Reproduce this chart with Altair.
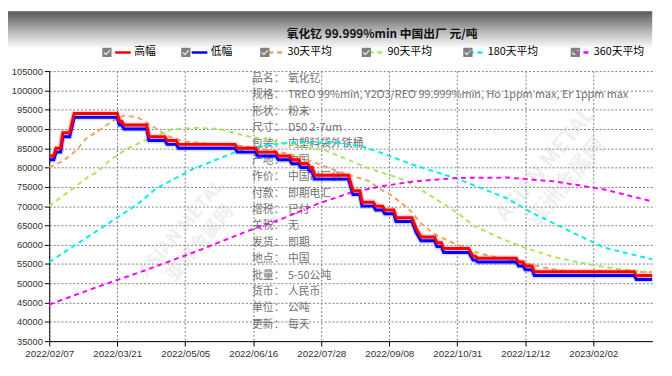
import json
import altair as alt
import pandas as pd

# ---------------- data ----------------
series_names = ["高幅", "低幅", "30天平均", "90天平均", "180天平均", "360天平均"]
series_colors = ["#ff0000", "#0000ff", "#f4a460", "#a8e85a", "#00eeee", "#ff00ff"]
series_dash = [[1, 0], [1, 0], [5, 4], [5, 4], [5, 4], [5, 4]]

tick_days = [0, 30, 60, 90, 120, 150, 180, 210, 240]
tick_labels = ["2022/02/07", "2022/03/21", "2022/05/05", "2022/06/16", "2022/07/28",
               "2022/09/08", "2022/10/31", "2022/12/12", "2023/02/02"]
last_day = 266
y_ticks = list(range(35000, 105001, 5000))

# price runs: (first trading day of run, price)
run_start = [0, 3, 6, 10, 11, 31, 33, 44, 52, 57, 83, 92, 101, 107, 111, 115, 117, 133,
             134, 138, 144, 148, 153, 161, 162, 163, 164, 171, 174, 186, 187, 189, 207,
             210, 214, 259]
high_values = [83000, 85000, 89000, 91500, 94000, 92000, 91000, 88000, 87000, 86000,
               85000, 84000, 83000, 82000, 81000, 80000, 78000, 76000, 74000, 71000,
               70000, 69000, 67000, 65500, 64000, 63000, 62000, 60500, 59000, 58000,
               57000, 56500, 55500, 54500, 53000, 52000]
low_values = [82000, 84000, 88000, 90500, 93000, 91000, 90000, 87000, 86000, 85000,
              84000, 83000, 82000, 81000, 80000, 79000, 77000, 75000, 73000, 70000,
              69000, 68000, 66000, 64500, 63000, 62000, 61000, 59500, 58000, 57000,
              56000, 55500, 54500, 53500, 52000, 51000]

ma30_days = [0, 6, 12, 16, 22, 28, 33, 39, 46, 53, 60, 68, 78, 86, 98, 104, 111, 121,
             130, 141, 147, 150, 156, 160, 164, 170, 178, 190, 200, 206, 216, 225, 238,
             259, 266]
ma30_values = [80000, 81700, 84400, 87400, 89600, 92100, 93500, 93000, 90500, 88000,
               86700, 86300, 86000, 85500, 84400, 83700, 82700, 80400, 78500, 76500,
               74000, 73200, 70500, 68400, 65500, 62700, 60500, 57700, 56400, 55700,
               54400, 53300, 53000, 53000, 52900]

ma90_days = [0, 8, 17, 21, 26, 34, 45, 54, 65, 75, 86, 104, 122, 141, 157, 169, 180,
             187, 199, 209, 222, 238, 252, 266]
ma90_values = [70000, 73500, 77500, 78800, 81500, 84800, 87800, 89900, 90300, 90000,
               88300, 86200, 84400, 79800, 76700, 72400, 68300, 65000, 61700, 59400,
               56900, 54900, 53600, 52900]

ma180_days = [0, 13, 26, 39, 47, 63, 82, 95, 108, 125, 138, 147, 160, 180, 202, 212,
              230, 245, 257, 266]
ma180_values = [55500, 60500, 65500, 70500, 74500, 79500, 84000, 85800, 86500, 86500,
                85500, 83700, 80800, 77100, 72000, 68600, 63400, 59200, 57500, 56200]

ma360_days = [0, 21, 43, 65, 86, 104, 118, 133, 147, 161, 180, 202, 223, 245, 266]
ma360_values = [44500, 49000, 53500, 58300, 63200, 67000, 70500, 73500, 75200, 76400,
                77300, 77400, 76400, 74300, 71200]

title_text = "氧化钇 99.999%min 中国出厂 元/吨"
info_keys = ["品名：", "规格：", "形状：", "尺寸：", "包装：", "产地：", "作价：", "付款：",
             "增税：", "关税：", "发货：", "地点：", "批量：", "货币：", "单位：", "更新："]
info_values = ["氧化钇", "TREO 99%min, Y2O3/REO 99.999%min, Ho 1ppm max, Er 1ppm max",
               "粉末", "D50 2-7um", "内塑料袋外铁桶", "中国", "中国出厂价", "即期电汇",
               "已付", "无", "即期", "中国", "5-50公吨", "人民币", "公吨", "每天"]
watermark_lines = ["ASIAN METAL", "亚洲金属网"]

# ---------------- table ----------------
rows = []
for d in range(last_day + 1):
    k = max(j for j, s in enumerate(run_start) if s <= d)
    rows.append({"day": d, "value": high_values[k], "series": series_names[0]})
    rows.append({"day": d, "value": low_values[k], "series": series_names[1]})
for name, days, vals in [(series_names[2], ma30_days, ma30_values),
                         (series_names[3], ma90_days, ma90_values),
                         (series_names[4], ma180_days, ma180_values),
                         (series_names[5], ma360_days, ma360_values)]:
    for d, v in zip(days, vals):
        rows.append({"day": d, "value": v, "series": name})
df = pd.DataFrame(rows)
# checkbox legend entries (zero-width suffix keeps this legend separate from the line legend)
box_names = [s + "\u200b" for s in series_names]
legend_df = pd.DataFrame({"box": box_names})
one = pd.DataFrame({"k": [0]})

W, H = 614, 275
CJK = "Noto Sans CJK SC"

x_enc = alt.X("day:Q",
              scale=alt.Scale(domain=[0, last_day], nice=False, zero=False),
              axis=alt.Axis(values=tick_days, title=None,
                            labelExpr=json.dumps(tick_labels, ensure_ascii=False) + "[round(datum.value / 30)]",
                            labelFont="Liberation Sans", labelFontSize=10, labelColor="#333333",
                            labelPadding=3, tickSize=5, tickColor="#000000",
                            domainColor="#000000", grid=True, gridColor="#7a7a7a",
                            gridDash=[2, 2], labelFlush=False))
y_enc = alt.Y("value:Q",
              scale=alt.Scale(domain=[35000, 105000], nice=False, zero=False),
              axis=alt.Axis(values=y_ticks, title=None, format="d",
                            labelFont="Liberation Sans", labelFontSize=9.5, labelColor="#333333",
                            labelPadding=2, tickSize=5, tickColor="#000000",
                            domainColor="#000000", grid=True, gridColor="#7a7a7a",
                            gridDash=[2, 2]))

legend_common = dict(title=None, orient="none", legendX=52.5,
                     direction="horizontal", columns=6, gridAlign="none",
                     padding=0, symbolSize=841, symbolStrokeWidth=2.5,
                     labelFont=CJK, labelOffset=2)
line_legend = alt.Legend(symbolType="M-0.1,0L1,0", labelColor="#000000", legendY=-35,
                         labelFontSize=11, columnPadding=22, **legend_common)
# checkbox legend: its hidden spacer labels (label twice at half size, slightly wider
# because of glyph rounding, hence the smaller column padding) sit 12px lower;
# the checkbox path is drawn 12px (0.828 units) higher to line up with the line symbols
box_path = ("M-1,-1.148L-0.35,-1.148L-0.35,-0.508L-1,-0.508Z"
            "M-0.876,-0.862L-0.910,-0.794L-0.737,-0.630L-0.454,-0.944L-0.489,-1.012L-0.737,-0.739Z")
box_label_expr = "replace(datum.label, regexp('\u200b', 'g'), '') + replace(datum.label, regexp('\u200b', 'g'), '')"
box_legend = alt.Legend(symbolStrokeColor="transparent", symbolFillColor="#808080",
                        symbolOpacity=1, labelOpacity=0, legendY=-23, labelFontSize=5.5,
                        columnPadding=19.4, labelExpr=box_label_expr, **legend_common)

color_enc = alt.Color("series:N", scale=alt.Scale(domain=series_names, range=series_colors),
                      legend=line_legend)
dash_enc = alt.StrokeDash("series:N", scale=alt.Scale(domain=series_names, range=series_dash),
                          legend=line_legend)

# ---------------- layers ----------------
header = alt.Chart(one).mark_rect(
    color=alt.LinearGradient(gradient="linear", x1=0, y1=0, x2=0, y2=1,
                             stops=[alt.GradientStop(color="#585858", offset=0),
                                    alt.GradientStop(color="#b8b8b8", offset=0.55),
                                    alt.GradientStop(color="#ffffff", offset=1)])
).encode(x=alt.value(-42), x2=alt.value(W), y=alt.value(-61), y2=alt.value(-23))

title = alt.Chart(one).mark_text(text=title_text, font=CJK, fontSize=12, fontWeight="bold",
                                 color="#111111", align="center", baseline="middle"
                                 ).encode(x=alt.value(339), y=alt.value(-38))

info_k = alt.Chart(one).mark_text(text=info_keys, font=CJK, fontSize=11, color="#707070",
                                  align="left", baseline="top", lineHeight=16.7
                                  ).encode(x=alt.value(206.5), y=alt.value(2))
info_v = alt.Chart(one).mark_text(text=info_values, font=CJK, fontSize=11, color="#707070",
                                  align="left", baseline="top", lineHeight=16.7
                                  ).encode(x=alt.value(243), y=alt.value(2))

wm1 = alt.Chart(one).mark_text(text=watermark_lines, font=CJK, fontSize=19, fontWeight="bold",
                               color="#c8c8c8", opacity=0.28, angle=310, lineHeight=24,
                               align="center", baseline="middle"
                               ).encode(x=alt.value(135), y=alt.value(160))
wm2 = alt.Chart(one).mark_text(text=watermark_lines, font=CJK, fontSize=22, fontWeight="bold",
                               color="#c8c8c8", opacity=0.28, angle=310, lineHeight=28,
                               align="center", baseline="middle"
                               ).encode(x=alt.value(505), y=alt.value(95))

base = alt.Chart(df)
dashed = base.transform_filter(
    alt.FieldOneOfPredicate(field="series", oneOf=series_names[2:])
).mark_line(strokeWidth=2).encode(x=x_enc, y=y_enc, color=color_enc, strokeDash=dash_enc,
                                  detail="series:N")

def glow(name, col):
    return base.transform_filter(alt.datum.series == name).mark_line(
        strokeWidth=6, color=col, opacity=0.16).encode(x=x_enc, y=y_enc)

def solid(name):
    return base.transform_filter(alt.datum.series == name).mark_line(
        strokeWidth=3).encode(x=x_enc, y=y_enc, color=color_enc, strokeDash=dash_enc)

boxes = alt.Chart(legend_df).transform_filter("false").mark_point(
    filled=True, color="#808080").encode(
    shape=alt.Shape("box:N", scale=alt.Scale(domain=box_names, range=[box_path] * 6),
                    legend=box_legend),
    x=alt.value(0), y=alt.value(0))

chart = alt.layer(
    header, title, info_k, info_v, wm1, wm2, dashed,
    glow(series_names[1], "#0000ff"), glow(series_names[0], "#ff0000"),
    solid(series_names[1]), solid(series_names[0]), boxes
).properties(width=W, height=H, padding=0, background="white"
).configure_view(stroke=None)

chart.save("out.html", embed_options={"renderer": "svg", "actions": False})
